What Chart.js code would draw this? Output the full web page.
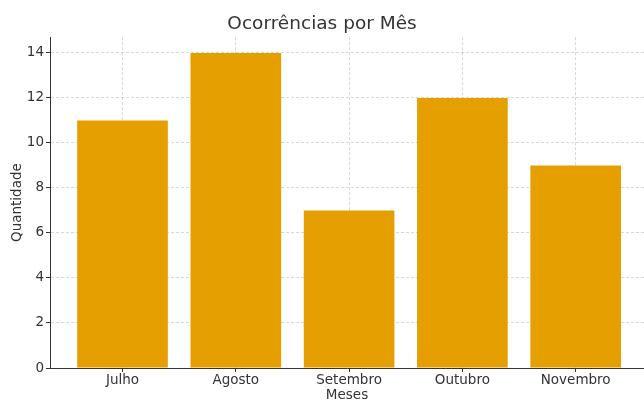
<!DOCTYPE html>
<html>
<head>
<meta charset="utf-8">
<script src="https://cdn.jsdelivr.net/npm/chart.js@4"></script>
<style>
  html, body { margin: 0; padding: 0; background: #fff; }
  #wrap { width: 644px; height: 401px; }
</style>
</head>
<body>
<div id="wrap"><canvas id="bar-chart" width="644" height="401"></canvas></div>
<script>
// dados
const meses = ['Julho', 'Agosto', 'Setembro', 'Outubro', 'Novembro'];
const ocorrencias = [11, 14, 7, 12, 9];
const yTicks = [0, 2, 4, 6, 8, 10, 12, 14];

const pontos = meses.map(function(m, i) {
  return { x: i, y: ocorrencias[i] };
});

const gridColor = 'rgba(190,190,190,0.75)';
const textColor = '#333';

var ctx = document.getElementById('bar-chart');
var chart = new Chart(ctx, {
  type: 'bar',
  data: {
    datasets: [{
      label: 'Ocorrências',
      data: pontos,
      backgroundColor: '#E69F00',
      borderWidth: 0,
      barPercentage: 0.8,
      categoryPercentage: 1
    }]
  },
  options: {
    responsive: false,
    animation: false,
    layout: { padding: { top: 13, right: 0, left: 0, bottom: 0 } },
    plugins: {
      legend: { display: false },
      tooltip: { enabled: false },
      title: {
        display: true,
        text: 'Ocorrências por Mês',
        color: textColor,
        font: { family: 'DejaVu Sans', size: 18.5, weight: 'normal' },
        padding: { top: 0, bottom: 2 }
      }
    },
    scales: {
      x: {
        type: 'linear',
        offset: false,
        z: 1,
        min: -0.64,
        max: 4.603,
        afterBuildTicks: function(scale) {
          scale.ticks = meses.map(function(m, i) { return { value: i }; });
        },
        afterFit: function(scale) { scale.height = 33; },
        ticks: {
          color: textColor,
          font: { family: 'DejaVu Sans', size: 13.5 },
          padding: 0,
          maxRotation: 0,
          autoSkip: false,
          callback: function(v) { return meses[v]; }
        },
        grid: {
          offset: false,
          color: gridColor,
          lineWidth: 0.8,
          tickLength: 4,
          tickColor: textColor,
          tickWidth: 1
        },
        border: { display: true, color: textColor, width: 1, dash: [3, 2] },
        title: {
          display: true,
          text: 'Meses',
          color: textColor,
          font: { family: 'DejaVu Sans', size: 13.5 },
          padding: { top: 0, bottom: -3 }
        }
      },
      y: {
        z: 1,
        min: 0,
        max: 14.7,
        afterBuildTicks: function(scale) {
          scale.ticks = yTicks.map(function(v) { return { value: v }; });
        },
        afterFit: function(scale) { scale.width = 50; },
        ticks: {
          color: textColor,
          font: { family: 'DejaVu Sans', size: 13.5 },
          padding: 2
        },
        grid: {
          color: gridColor,
          lineWidth: 0.8,
          tickLength: 4,
          tickColor: textColor,
          tickWidth: 1
        },
        border: { display: true, color: textColor, width: 1, dash: [3, 2] },
        title: {
          display: true,
          text: 'Quantidade',
          color: textColor,
          font: { family: 'DejaVu Sans', size: 13.5 },
          padding: { top: 9, bottom: 0 }
        }
      }
    }
  }
});
</script>
</body>
</html>
